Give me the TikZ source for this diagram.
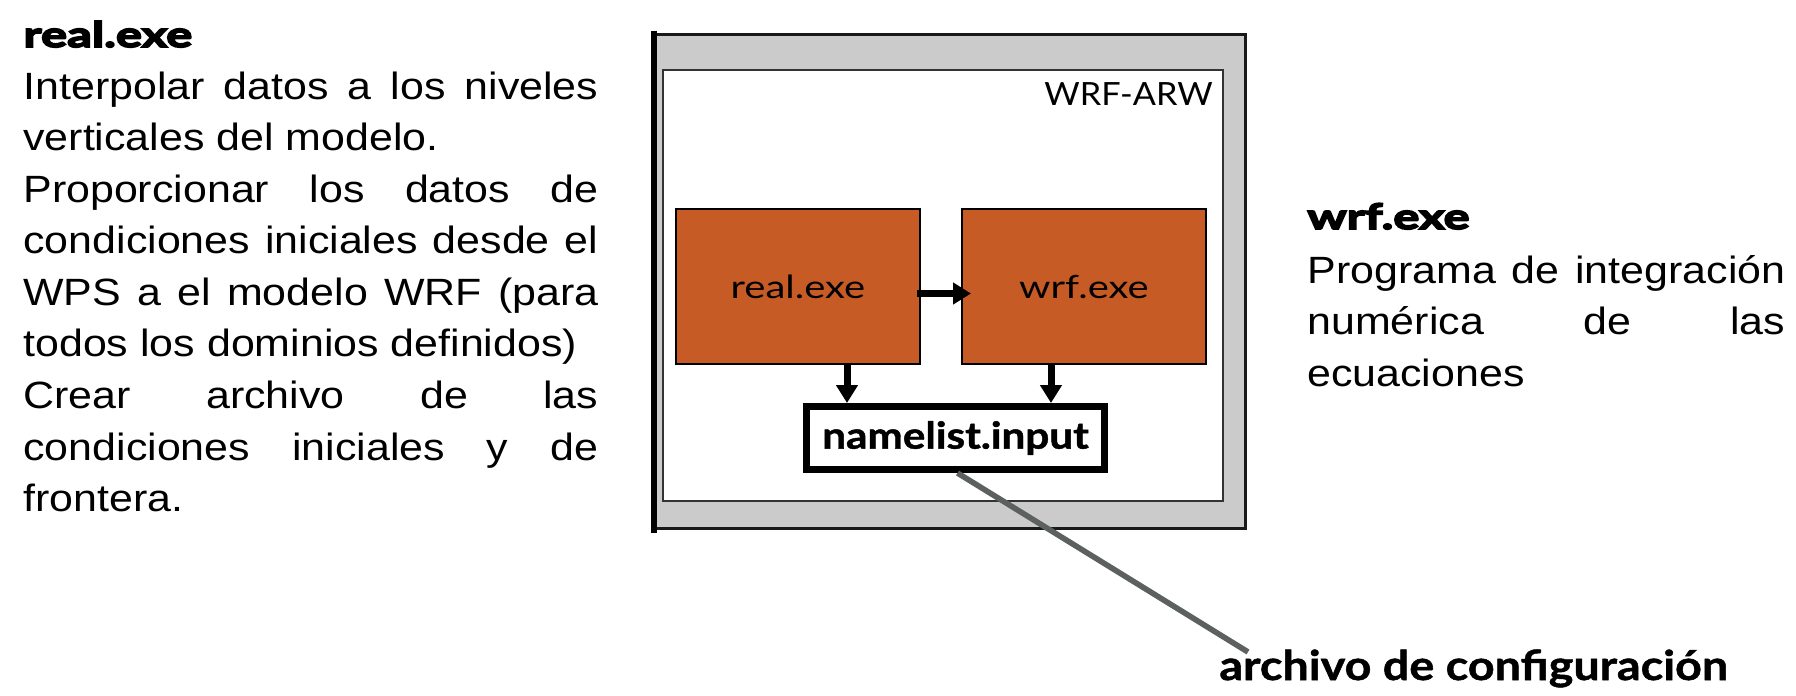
\documentclass[tikz,border=0pt]{standalone}
\usepackage{fontspec}
\setmainfont{Liberation Sans}[FakeStretch=1.13]
\newfontfamily\gillfont{Lato}[FakeStretch=1.25]
\newfontfamily\tagfont{Lato}[FakeStretch=1.07]
\newfontfamily\gillbold{Lato}[FakeStretch=1.14,FakeBold=1.2]
\newfontfamily\gillultra{Lato}[FakeStretch=1.4,FakeBold=5]
\usetikzlibrary{arrows.meta,positioning,calc}
\hyphenpenalty=10000
\exhyphenpenalty=10000
\definecolor{shellgray}{HTML}{CBCBCB}
\definecolor{rust}{HTML}{C75B26}
\definecolor{leadergray}{HTML}{5C605F}
\tikzset{
  shell/.style={draw=black!90,line width=1.5pt,fill=shellgray,inner sep=0pt,
    minimum width=295pt,minimum height=247.25pt},
  panel/.style={draw=black!80,line width=1.2pt,fill=white,inner sep=0pt,
    minimum width=280pt,minimum height=215.5pt},
  exe/.style={draw=black,line width=1pt,fill=rust,inner sep=0pt,
    minimum width=122pt,minimum height=77.5pt,font=\gillfont\fontsize{16}{18}\selectfont},
  cfgbox/.style={draw=black,line width=3.5pt,fill=white,inner sep=0pt,
    minimum width=149pt,minimum height=31.5pt,font=\gillbold\bfseries\fontsize{18.5}{20}\selectfont},
  tag/.style={inner sep=0pt,font=\tagfont\fontsize{16}{18}\selectfont},
  flow/.style={-{Triangle[length=9pt,width=10.5pt]},line width=3.5pt},
  leader/.style={draw=leadergray,line width=2.8pt},
  head/.style={inner sep=0pt,anchor=base west,font=\gillultra\bfseries\fontsize{17.5}{20}\selectfont},
  body/.style={inner sep=0pt,anchor=base west,align=justify,font=\fontsize{19}{25.8}\selectfont},
  cfglabel/.style={inner sep=0pt,anchor=base west,font=\gillbold\bfseries\fontsize{20.5}{24}\selectfont},
}

\begin{document}
\begin{tikzpicture}[x=0.5pt,y=-0.5pt,node distance=20pt]
  \useasboundingbox (0,0) rectangle (1796,696);
  % model frame
  \node[shell] (shell) at (950,281.25) {};
  \draw[line width=3pt] ([yshift=1pt]shell.north west) -- ([yshift=-1.5pt]shell.south west);
  \node[panel] (panel) at (943,285.5) {};
  \node[tag,anchor=base east] (tag) at (1213,105) {WRF-ARW};
  % programs
  \node[exe] (real) at (798,286.5) {real.exe};
  \node[exe,right=of real] (wrf) {wrf.exe};
  \node[cfgbox] (nml) at (955.5,438) {namelist.input};
  \draw[flow] ($(real.east)+(-4,7)$) -- ($(wrf.west)+(10,7)$);
  \coordinate (ra) at ($(real.south)+(49,0)$);
  \coordinate (wa) at ($(wrf.south)+(-33,0)$);
  \foreach \s in {ra,wa} \draw[flow] (\s) -- (\s |- nml.north);
  % leader to the label
  \node[cfglabel] (cfg) at (1219,680) {archivo de configuración};
  \coordinate (cfgtip) at (1248,652);
  \draw[leader] ($(nml.south)+(2,0)$) -- (cfgtip);
  % side texts
  \node[head] (realhead) at (23,47) {real.exe};
  \node[body,text width=287.5pt] (realtext) at (23,99) {Interpolar datos a los niveles\linebreak
    verticales del modelo.\par
    Proporcionar los datos de\linebreak condiciones iniciales desde el\linebreak
    WPS a el modelo WRF (para\linebreak todos los dominios definidos)\par
    Crear archivo de las\linebreak condiciones iniciales y de\linebreak frontera.};
  \node[head] (wrfhead) at (1307,229) {wrf.exe};
  \node[body,text width=239pt] (wrftext) at (1307,283) {Programa de integración\linebreak
    numérica de las\linebreak ecuaciones};
\end{tikzpicture}
\end{document}
